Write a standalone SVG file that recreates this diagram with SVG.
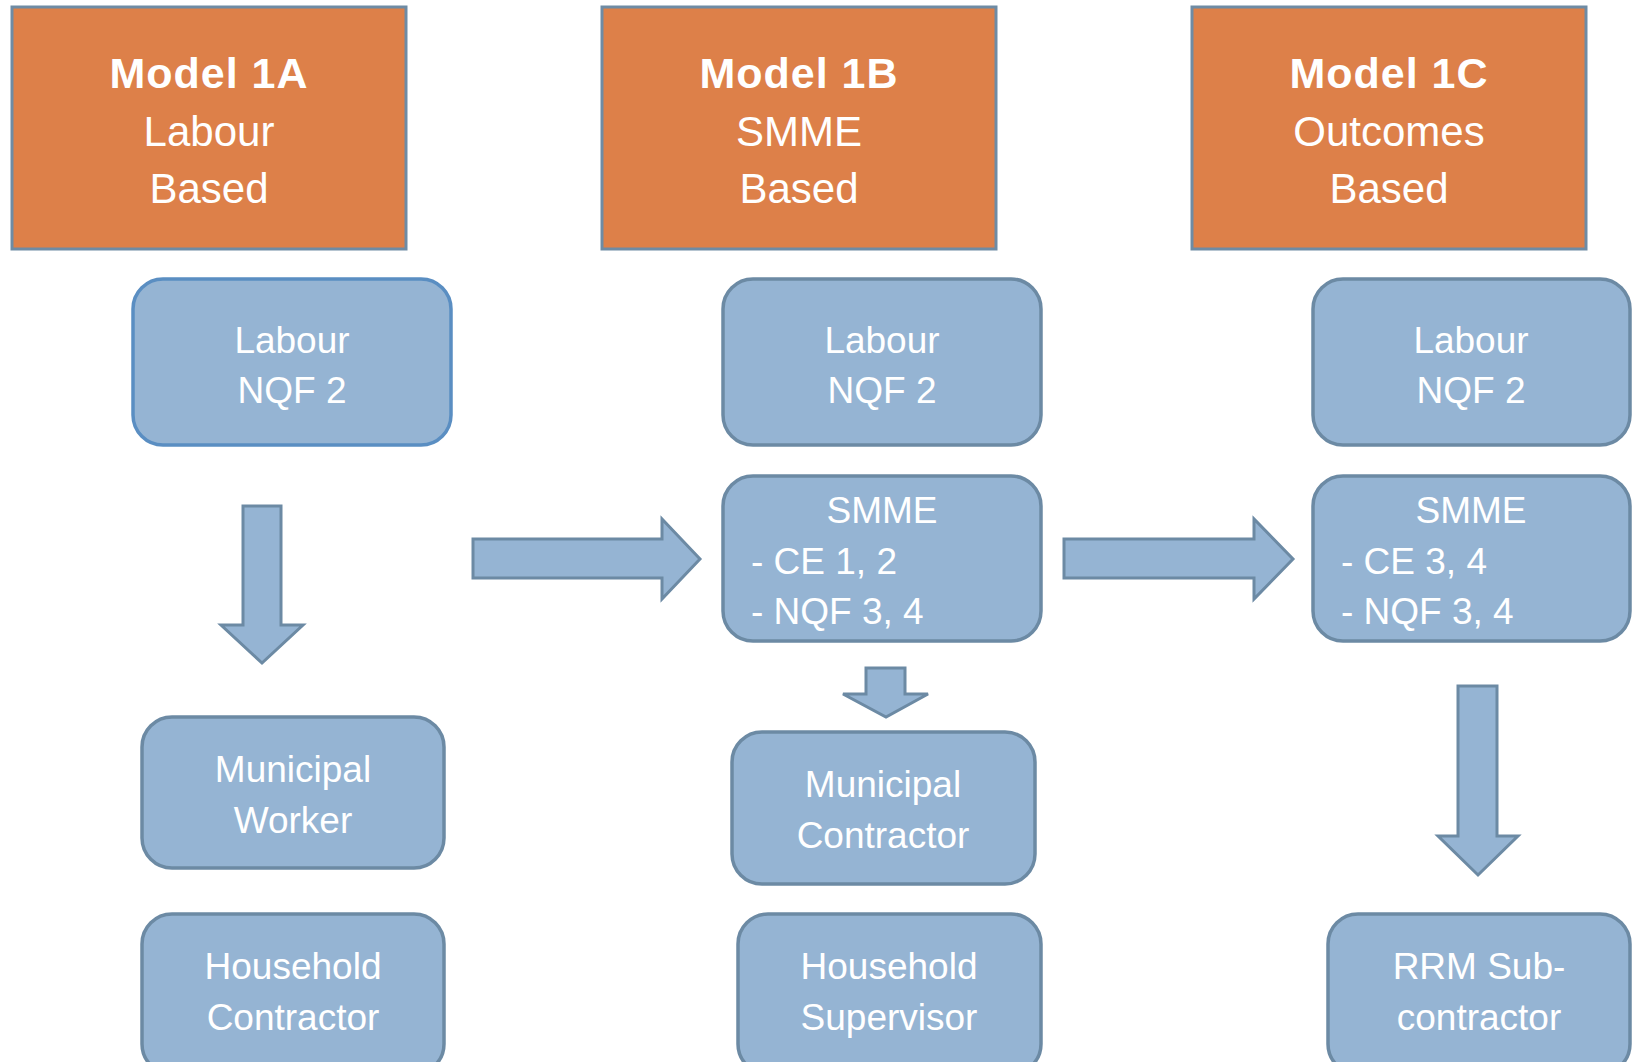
<svg xmlns="http://www.w3.org/2000/svg" width="1632" height="1062" viewBox="0 0 1632 1062">
<style>
.hdr{fill:#DD8049;stroke:#6E8BA4;stroke-width:3}
.box{fill:#95B4D3;stroke:#6C8AA4;stroke-width:3.5}
.box2{fill:#95B4D3;stroke:#5A8EC2;stroke-width:3.5}
.arr{fill:#95B4D3;stroke:#6C8AA4;stroke-width:3;stroke-linejoin:miter}
text{font-family:"Liberation Sans",Arial,sans-serif;fill:#FFFFFF}
.t{font-size:42px;text-anchor:middle}
.tb{font-size:43px;font-weight:bold;text-anchor:middle;letter-spacing:1px}
.b{font-size:37px;text-anchor:middle}
.l{font-size:37px}
</style>
<rect width="1632" height="1062" fill="#FFFFFF"/>
<g id="model1a">
<rect class="hdr" x="12" y="7" width="394" height="242"/>
<text class="tb" x="209" y="88">Model 1A</text>
<text class="t" x="209" y="146">Labour</text>
<text class="t" x="209" y="203">Based</text>
</g>
<g id="model1b">
<rect class="hdr" x="602" y="7" width="394" height="242"/>
<text class="tb" x="799" y="88">Model 1B</text>
<text class="t" x="799" y="146">SMME</text>
<text class="t" x="799" y="203">Based</text>
</g>
<g id="model1c">
<rect class="hdr" x="1192" y="7" width="394" height="242"/>
<text class="tb" x="1389" y="88">Model 1C</text>
<text class="t" x="1389" y="146">Outcomes</text>
<text class="t" x="1389" y="203">Based</text>
</g>
<g id="labour1a">
<rect class="box2" x="133" y="279" width="318" height="166" rx="30"/>
<text class="b" x="292" y="353">Labour</text>
<text class="b" x="292" y="403">NQF 2</text>
</g>
<g id="labour1b">
<rect class="box" x="723" y="279" width="318" height="166" rx="30"/>
<text class="b" x="882" y="353">Labour</text>
<text class="b" x="882" y="403">NQF 2</text>
</g>
<g id="labour1c">
<rect class="box" x="1313" y="279" width="317" height="166" rx="30"/>
<text class="b" x="1471" y="353">Labour</text>
<text class="b" x="1471" y="403">NQF 2</text>
</g>
<g id="smme1b">
<rect class="box" x="723" y="476" width="318" height="165" rx="30"/>
<text class="b" x="882" y="523">SMME</text>
<text class="l" x="751" y="574">- CE 1, 2</text>
<text class="l" x="751" y="624">- NQF 3, 4</text>
</g>
<g id="smme1c">
<rect class="box" x="1313" y="476" width="317" height="165" rx="30"/>
<text class="b" x="1471" y="523">SMME</text>
<text class="l" x="1341" y="574">- CE 3, 4</text>
<text class="l" x="1341" y="624">- NQF 3, 4</text>
</g>
<g id="municipal-worker">
<rect class="box" x="142" y="717" width="302" height="151" rx="30"/>
<text class="b" x="293" y="782">Municipal</text>
<text class="b" x="293" y="833">Worker</text>
</g>
<g id="household-contractor">
<rect class="box" x="142" y="914" width="302" height="160" rx="30"/>
<text class="b" x="293" y="979">Household</text>
<text class="b" x="293" y="1030">Contractor</text>
</g>
<g id="municipal-contractor">
<rect class="box" x="732" y="732" width="303" height="152" rx="30"/>
<text class="b" x="883" y="797">Municipal</text>
<text class="b" x="883" y="848">Contractor</text>
</g>
<g id="household-supervisor">
<rect class="box" x="738" y="914" width="303" height="160" rx="30"/>
<text class="b" x="889" y="979">Household</text>
<text class="b" x="889" y="1030">Supervisor</text>
</g>
<g id="rrm-subcontractor">
<rect class="box" x="1328" y="914" width="302" height="160" rx="30"/>
<text class="b" x="1479" y="979">RRM Sub-</text>
<text class="b" x="1479" y="1030">contractor</text>
</g>
<g id="connectors">
<polygon class="arr" points="243,506 281,506 281,625 303,625 262,663 221,625 243,625"/>
<polygon class="arr" points="473,539 662,539 662,519 700,559 662,599 662,578 473,578"/>
<polygon class="arr" points="1064,539 1254,539 1254,519 1293,559 1254,599 1254,578 1064,578"/>
<polygon class="arr" points="866,668 905,668 905,694 928,694 886,717 843,694 866,694"/>
<polygon class="arr" points="1458,686 1497,686 1497,836 1518,836 1478,875 1438,836 1458,836"/>
</g>
</svg>
